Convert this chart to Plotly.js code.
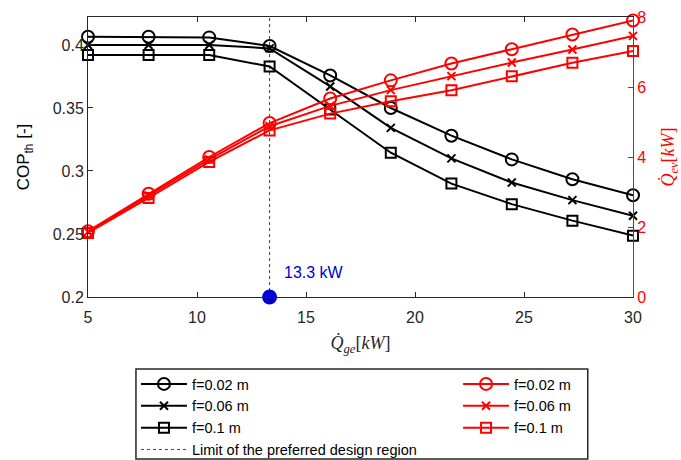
<!DOCTYPE html>
<html>
<head>
<meta charset="utf-8">
<script src="https://cdn.plot.ly/plotly-3.0.1.min.js"></script>
<style>html,body{margin:0;padding:0;background:#fff;}#chart{width:681px;height:460px;}</style>
</head>
<body>
<div id="chart"></div>
<script>
// Generator heat input (x axis), kW
const qGe = [5, 7.78, 10.56, 13.33, 16.11, 18.89, 21.67, 24.44, 27.22, 30];
// Thermal COP (left axis)
const copF002 = [0.4065, 0.4065, 0.406, 0.3992, 0.3758, 0.350, 0.328, 0.3092, 0.2934, 0.2808];
const copF006 = [0.400, 0.400, 0.400, 0.3973, 0.3671, 0.3342, 0.310, 0.2908, 0.2769, 0.2645];
const copF01  = [0.392, 0.392, 0.392, 0.3829, 0.3488, 0.3145, 0.290, 0.2737, 0.2606, 0.2487];
// Evaporator capacity (right axis), kW
const qevF002 = [1.88, 2.95, 4.00, 4.97, 5.67, 6.19, 6.67, 7.08, 7.50, 7.90];
const qevF006 = [1.86, 2.90, 3.93, 4.88, 5.46, 5.91, 6.31, 6.70, 7.07, 7.46];
const qevF01  = [1.83, 2.83, 3.86, 4.76, 5.24, 5.59, 5.91, 6.31, 6.69, 7.03];
// Design limit
const limitX = [13.33, 13.33];
const limitY = [0.2, 0.4222];
const limitLabel = "13.3 kW";
const seriesNames = ["f=0.02 m", "f=0.06 m", "f=0.1 m"];

const BLUE = "#2a2aff";
const DOT = "rgb(0,0,205)";
const font = "Liberation Sans, Arial, sans-serif";
const serif = "Liberation Serif, Times New Roman, serif";

function mk(y, name, color, symbol, size, axis, legend) {
  return {
    x: qGe, y: y, name: name, type: "scatter", mode: "lines+markers",
    yaxis: axis, legend: legend, cliponaxis: false,
    line: {color: color, width: 2},
    marker: {symbol: symbol, size: size, color: color, line: {color: color, width: 2}}
  };
}

const data = [
  {x: limitX, y: limitY, name: "Limit of the preferred design region", type: "scatter", mode: "lines",
   yaxis: "y", legend: "legend", legendrank: 2000, cliponaxis: false,
   line: {color: BLUE, width: 1, dash: "3px,3px"}},
  mk(copF002, seriesNames[0], "#000", "circle-open", 12, "y", "legend"),
  mk(copF006, seriesNames[1], "#000", "x-thin-open", 8, "y", "legend"),
  mk(copF01,  seriesNames[2], "#000", "square-open", 10, "y", "legend"),
  mk(qevF002, seriesNames[0], "#ff0000", "circle-open", 12, "y2", "legend2"),
  mk(qevF006, seriesNames[1], "#ff0000", "x-thin-open", 8, "y2", "legend2"),
  mk(qevF01,  seriesNames[2], "#ff0000", "square-open", 10, "y2", "legend2"),
  {x: [limitX[0]], y: [limitY[0]], type: "scatter", mode: "markers", showlegend: false, cliponaxis: false,
   yaxis: "y", marker: {color: DOT, size: 15, symbol: "circle"}}
];

const layout = {
  width: 681, height: 460,
  margin: {l: 88, r: 48, t: 17, b: 163, pad: 0},
  paper_bgcolor: "#fff", plot_bgcolor: "#fff",
  font: {family: font, size: 16, color: "#262626"},
  showlegend: true,
  xaxis: {
    range: [5, 30], dtick: 5, tick0: 5, showgrid: false, zeroline: false,
    showline: true, linecolor: "#262626", linewidth: 1, mirror: "ticks",
    ticks: "inside", ticklen: 5, tickcolor: "#262626", ticklabelstandoff: 6,
    tickfont: {size: 16, color: "#262626"},
    title: {text: "<i>Q̇</i><sub><i>ge</i></sub>[<i>kW</i>]", font: {family: serif, size: 18, color: "#262626"}, standoff: 11}
  },
  yaxis: {
    range: [0.2, 0.4222], dtick: 0.05, tick0: 0.2, showgrid: false, zeroline: false,
    showline: true, linecolor: "#262626", linewidth: 1,
    ticks: "inside", ticklen: 5, tickcolor: "#262626",
    tickfont: {size: 16, color: "#262626"},
    title: {text: "COP<sub>th</sub> [-]", font: {size: 17, color: "#000"}, standoff: 18}
  },
  yaxis2: {
    range: [0, 8], dtick: 2, tick0: 0, overlaying: "y", side: "right",
    showgrid: false, zeroline: false, showline: true, linecolor: "#ff0000", linewidth: 1,
    ticks: "inside", ticklen: 5, tickcolor: "#ff0000",
    tickfont: {size: 16, color: "#ff0000"},
    title: {text: "<i>Q̇</i><sub><i>ev</i></sub>[<i>kW</i>]", font: {family: serif, size: 18, color: "#ff0000"}, standoff: 32}
  },
  legend: {
    xref: "paper", yref: "container",
    x: 0.088, y: 92 / 460, xanchor: "left", yanchor: "top", orientation: "v", itemwidth: 46,
    bgcolor: "rgba(0,0,0,0)", borderwidth: 0, font: {size: 14.5, color: "#000"}, tracegroupgap: 0
  },
  legend2: {
    xref: "paper", yref: "container",
    x: 0.679, y: 92 / 460, xanchor: "left", yanchor: "top", orientation: "v", itemwidth: 46,
    bgcolor: "rgba(0,0,0,0)", borderwidth: 0, font: {size: 14.5, color: "#000"}, tracegroupgap: 0
  },
  shapes: [{
    type: "rect", xref: "paper", yref: "paper", x0: 0.088, x1: 0.917, y0: -162 / 280, y1: -72 / 280,
    line: {color: "#262626", width: 1.5}, fillcolor: "rgba(0,0,0,0)", layer: "below"
  }],
  annotations: [{
    x: 13.9, y: 0.2195, xref: "x", yref: "y", text: limitLabel, showarrow: false,
    xanchor: "left", yanchor: "middle", font: {size: 16, color: DOT}
  }]
};

Plotly.newPlot("chart", data, layout, {displayModeBar: false, staticPlot: true});
</script>
</body>
</html>
